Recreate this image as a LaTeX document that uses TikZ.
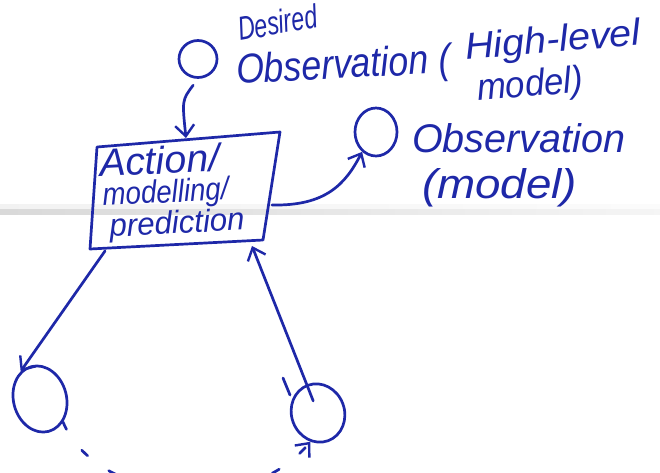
\documentclass[tikz,border=0pt]{standalone}
\usepackage{fontspec}
\setmainfont{Liberation Sans}
\usetikzlibrary{shapes.geometric,arrows.meta}
\definecolor{ink}{RGB}{30,40,168}
\newcommand\inkt[3]{\resizebox{#1pt}{#2pt}{\itshape #3}}
\tikzset{
  pen/.style={draw=ink, line width=2.7pt, line cap=round, line join=round},
  blob/.style={pen, ellipse, inner sep=0pt},
  note/.style={text=ink, inner sep=0pt, anchor=base west},
  tip/.style={-{Straight Barb[length=11pt,width=19pt,line width=2.4pt]}},
  link/.style={pen, tip}
}
\begin{document}
\begin{tikzpicture}[x=1pt,y=-1pt]
  % sheet and the crease across it
  \fill[white] (0,0) rectangle (660,472);
  \useasboundingbox (0,0) rectangle (660,472);
  \shade[left color=gray!30, right color=gray!8] (0,208) rectangle (660,214);
  \shade[left color=gray!10, right color=gray!3] (0,204) rectangle (660,208);

  % states
  \node[blob, minimum width=38pt, minimum height=37pt] (dtop) at (198,59) {};
  \node[blob, minimum width=42pt, minimum height=48pt] (obs) at (376,132) {};
  \node[blob, minimum width=53pt, minimum height=67pt, rotate=15] (ll) at (40,399) {};
  \node[blob, minimum width=53pt, minimum height=59pt, rotate=20] (lr) at (318,413) {};

  % the process box, drawn as a hand-skewed quadrilateral
  \coordinate (btl) at (97,147);
  \coordinate (btr) at (280,132);
  \coordinate (bbr) at (263,240);
  \coordinate (bbl) at (90,249);
  \draw[pen] (btl) -- (btr) -- (bbr) -- (bbl) -- cycle;
  \coordinate (bin) at (186,138);
  \coordinate (bout) at (272,205);
  \coordinate (bdown) at (105,251);
  \coordinate (bup) at (252,246);

  % labels
  \node[note, rotate=10] (ldes) at (240,41) {\inkt{80}{24}{Desired}};
  \node[note, rotate=3] (lobsd) at (237,84) {\inkt{214}{30}{Observation (}};
  \node[note, rotate=5] (lhigh) at (466,60) {\inkt{176}{27}{High-level}};
  \node[note, rotate=5] (lmod) at (478,101) {\inkt{106}{27}{model)}};
  \node[note, rotate=3] (lact) at (100,177) {\inkt{120}{28}{Action/}};
  \node[note, rotate=3] (lmdl) at (103,206) {\inkt{126}{23}{modelling/}};
  \node[note, rotate=3] (lpred) at (110,237) {\inkt{135}{23}{prediction}};
  \node[note] (lobs) at (412,152) {\inkt{213}{29}{Observation}};
  \node[note] (lmodel) at (422,198) {\inkt{155}{30}{(model)}};

  % connectors
  \draw[link, shorten <=8pt] (dtop.south) .. controls (182,100) .. (bin);
  \draw[link] (bout) .. controls (325,206) and (345,185) .. (obs.-125);
  \draw[link] (bdown) -- (ll.110);
  \draw[link, shorten <=13pt] (lr.center) -- (bup);
  \draw[pen, tip, dash pattern=on 8pt off 26pt]
    (ll.-60) .. controls (95,500) and (245,520) .. (lr.-125);
  % small stroke beside the lower right state
  \coordinate (tk1) at (283,378);
  \coordinate (tk2) at (290,395);
  \draw[pen] (tk1) -- (tk2);
\end{tikzpicture}
\end{document}
